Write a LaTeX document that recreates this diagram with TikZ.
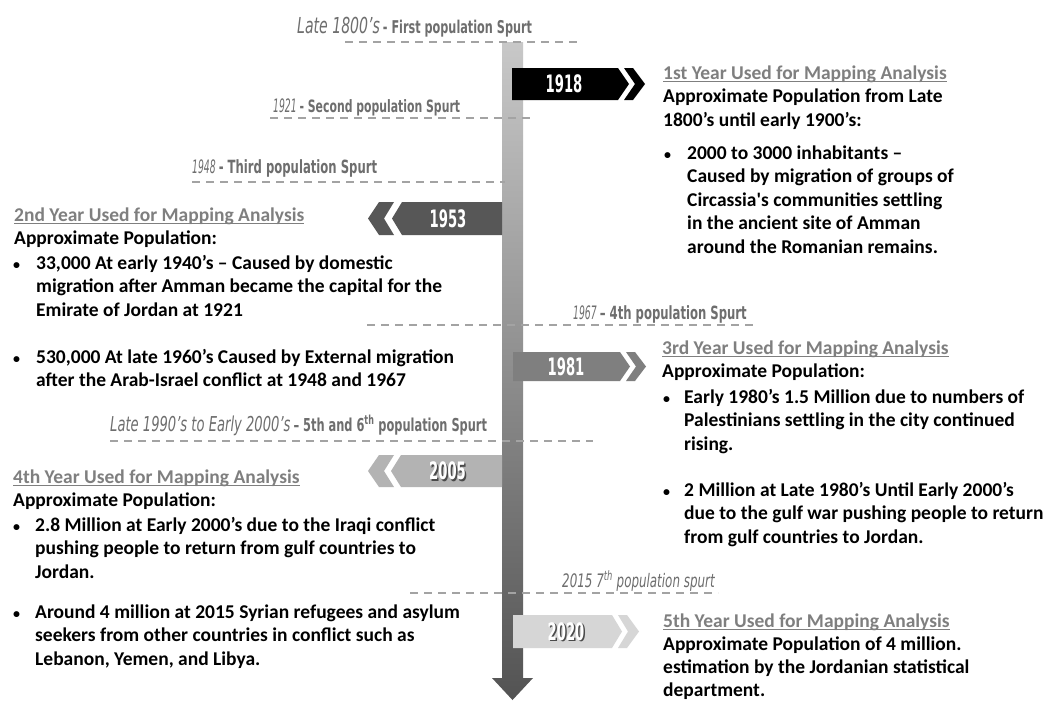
\documentclass[tikz,border=0pt]{standalone}
\usepackage{fontspec}
\setmainfont{Carlito}
\newfontfamily\spurtfont[FakeStretch=0.64]{DejaVu Sans}
\newfontfamily\digitfont[FakeStretch=0.5]{DejaVu Sans}
\newfontfamily\yearfont[FakeStretch=0.55]{DejaVu Sans}

\definecolor{headgray}{HTML}{7F7F7F}
\definecolor{spurtgray}{HTML}{6E6E6E}
\definecolor{dashgray}{HTML}{A3A3A3}
\definecolor{bartop}{HTML}{C8C8C8}
\definecolor{barbottom}{HTML}{535353}
\definecolor{banA}{HTML}{000000}
\definecolor{banB}{HTML}{575757}
\definecolor{banC}{HTML}{7F7F7F}
\definecolor{banD}{HTML}{B3B3B3}
\definecolor{banE}{HTML}{D6D6D6}
\definecolor{shadowgray}{HTML}{4A4A4A}

% a block of lines whose first baseline sits on the node's base anchor
\newcommand{\lines}[1]{\parbox[t]{560pt}{\raggedright #1}}
% grey underlined heading
\newlength{\hdwidth}
\newcommand{\heading}[1]{\settowidth{\hdwidth}{#1}%
  \textcolor{headgray}{\rlap{\rule[-2.5pt]{\hdwidth}{1pt}}#1}}
% italic year part of a spurt label, at a given size
\newcommand{\yr}[2]{{\fontsize{#1}{21}\selectfont\itshape #2}}
% italic year written in digits only
\newcommand{\yd}[1]{{\digitfont\fontsize{18.5}{21}\selectfont\itshape #1}}

\tikzset{
  body/.style={anchor=base west, inner sep=0pt,
    font=\fontsize{19.5}{23.6}\selectfont\bfseries},
  bulletmark/.style={anchor=base west, inner sep=0pt,
    font=\fontsize{14}{16}\selectfont\bfseries},
  spurt/.style={anchor=base west, inner sep=0pt, text=spurtgray,
    font=\spurtfont\fontsize{18.2}{21}\selectfont},
  guide/.style={draw=dashgray, line width=1.8pt, dash pattern=on 8pt off 6pt},
  yearlabel/.style={inner sep=0pt, text=white,
    font=\yearfont\bfseries\fontsize{24}{25}\selectfont},
  yearshadow/.style={inner sep=0pt, text=shadowgray,
    font=\yearfont\bfseries\fontsize{24}{25}\selectfont},
}

\begin{document}
\begin{tikzpicture}[x=1pt,y=-1pt]
\useasboundingbox[fill=white] (0,0) rectangle (1052,702);

% timeline bar with its arrow head
\shade[top color=bartop, bottom color=barbottom]
  (502,42) -- (523,42) -- (523,678) -- (533,678) -- (512.5,700)
  -- (492,678) -- (502,678) -- cycle;

% dashed guide lines of the population spurts
\draw[guide] (345,42) -- (578,42);
\draw[guide] (270,118) -- (530,118);
\draw[guide] (192,182) -- (505,182);
\draw[guide] (367,325) -- (757,325);
\draw[guide] (110,441) -- (593,441);
\draw[guide] (410,593) -- (718,593);

% spurt labels
\node[spurt, font=\spurtfont\fontsize{17.6}{21}\selectfont] (s1) at (297,33) {\yr{22}{Late 1800’s}\,{\bfseries - First population Spurt}};
\node[spurt, font=\spurtfont\fontsize{17}{19}\selectfont] (s2) at (273,112) {\yd{1921}\,{\bfseries - Second population Spurt}};
\node[spurt] (s3) at (192,173) {\yd{1948}\,{\bfseries - Third population Spurt}};
\node[spurt] (s4) at (573,319) {\yd{1967}\,{\bfseries – 4th population Spurt}};
\node[spurt, font=\spurtfont\fontsize{17.8}{21}\selectfont] (s5) at (110,431) {\yr{20.5}{Late 1990’s to Early 2000’s}\,{\bfseries – 5th and 6\textsuperscript{th} population Spurt}};
\node[spurt, font=\spurtfont\fontsize{18.6}{21}\selectfont] (s6) at (562,587) {\itshape 2015 7\textsuperscript{th} population spurt};

% 1918 banner
\fill[banA] (512,68) -- (618,68) -- (629,84) -- (618,100) -- (512,100) -- cycle;
\fill[banA] (624,68) -- (633,68) -- (645,84) -- (633,100) -- (624,100) -- (635,84) -- cycle;
\node[yearlabel] (y1918) at (564,84) {1918};

% 1953 banner
\fill[banB] (502,202) -- (402,202) -- (392,218.5) -- (402,235) -- (502,235) -- cycle;
\fill[banB] (394,202) -- (379,202) -- (368,218.5) -- (379,235) -- (394,235) -- (384,218.5) -- cycle;
\node[yearlabel] (y1953) at (448,218.5) {1953};

% 1981 banner
\fill[banC] (513,352) -- (620,352) -- (630,366.5) -- (620,381) -- (513,381) -- cycle;
\fill[banC] (626,352) -- (635,352) -- (646,366.5) -- (635,381) -- (626,381) -- (636,366.5) -- cycle;
\node[yearlabel] (y1981) at (566,367) {1981};

% 2005 banner
\fill[banD] (502,455) -- (401,455) -- (391,471) -- (401,487) -- (502,487) -- cycle;
\fill[banD] (394,455) -- (379,455) -- (368,471) -- (379,487) -- (394,487) -- (384,471) -- cycle;
\node[yearshadow] (y2005s) at (449,472.5) {2005};
\node[yearlabel] (y2005) at (447.5,471) {2005};

% 2020 banner
\fill[banE] (513,615) -- (612,615) -- (622,631.5) -- (612,648) -- (513,648) -- cycle;
\fill[banE] (618,615) -- (627,615) -- (639,631.5) -- (627,648) -- (618,648) -- (628,631.5) -- cycle;
\node[yearshadow] (y2020s) at (567.5,633) {2020};
\node[yearlabel] (y2020) at (566,631.5) {2020};

% first mapping year
\node[body] (r1head) at (663,79) {\lines{\heading{1st Year Used for Mapping Analysis}\\
  Approximate Population from Late\\
  1800’s until early 1900’s:}};
\node[bulletmark] (r1b) at (664,159) {•};
\node[body] (r1t) at (687,159) {\lines{2000 to 3000 inhabitants –\\
  Caused by migration of groups of\\
  Circassia\textquotesingle s communities settling\\
  in the ancient site of Amman\\
  around the Romanian remains.}};

% second mapping year
\node[body] (l2head) at (14,221) {\lines{\heading{2nd Year Used for Mapping Analysis}\\
  Approximate Population:}};
\node[bulletmark] (l2b1) at (13,269) {•};
\node[body] (l2t1) at (36,269) {\lines{33,000 At early 1940’s – Caused by domestic\\
  migration after Amman became the capital for the\\
  Emirate of Jordan at 1921}};
\node[bulletmark] (l2b2) at (13,363) {•};
\node[body] (l2t2) at (36,363) {\lines{530,000 At late 1960’s Caused by External migration\\
  after the Arab-Israel conflict at 1948 and 1967}};

% third mapping year
\node[body] (r3head) at (662,354) {\lines{\heading{3rd Year Used for Mapping Analysis}\\
  Approximate Population:}};
\node[bulletmark] (r3b1) at (663,403) {•};
\node[body] (r3t1) at (684,403) {\lines{Early 1980’s 1.5 Million due to numbers of\\
  Palestinians settling in the city continued\\
  rising.}};
\node[bulletmark] (r3b2) at (663,496) {•};
\node[body] (r3t2) at (684,496) {\lines{2 Million at Late 1980’s Until Early 2000’s\\
  due to the gulf war pushing people to return\\
  from gulf countries to Jordan.}};

% fourth mapping year
\node[body] (l4head) at (13,483) {\lines{\heading{4th Year Used for Mapping Analysis}\\
  Approximate Population:}};
\node[bulletmark] (l4b1) at (13,531) {•};
\node[body] (l4t1) at (35,531) {\lines{2.8 Million at Early 2000’s due to the Iraqi conflict\\
  pushing people to return from gulf countries to\\
  Jordan.}};
\node[bulletmark] (l4b2) at (13,618) {•};
\node[body] (l4t2) at (35,618) {\lines{Around 4 million at 2015 Syrian refugees and asylum\\
  seekers from other countries in conflict such as\\
  Lebanon, Yemen, and Libya.}};

% fifth mapping year
\node[body, font=\fontsize{19.5}{23}\selectfont\bfseries] (r5head) at (663,627) {\lines{\heading{5th Year Used for Mapping Analysis}\\
  Approximate Population of 4 million.\\
  estimation by the Jordanian statistical\\
  department.}};
\end{tikzpicture}
\end{document}
